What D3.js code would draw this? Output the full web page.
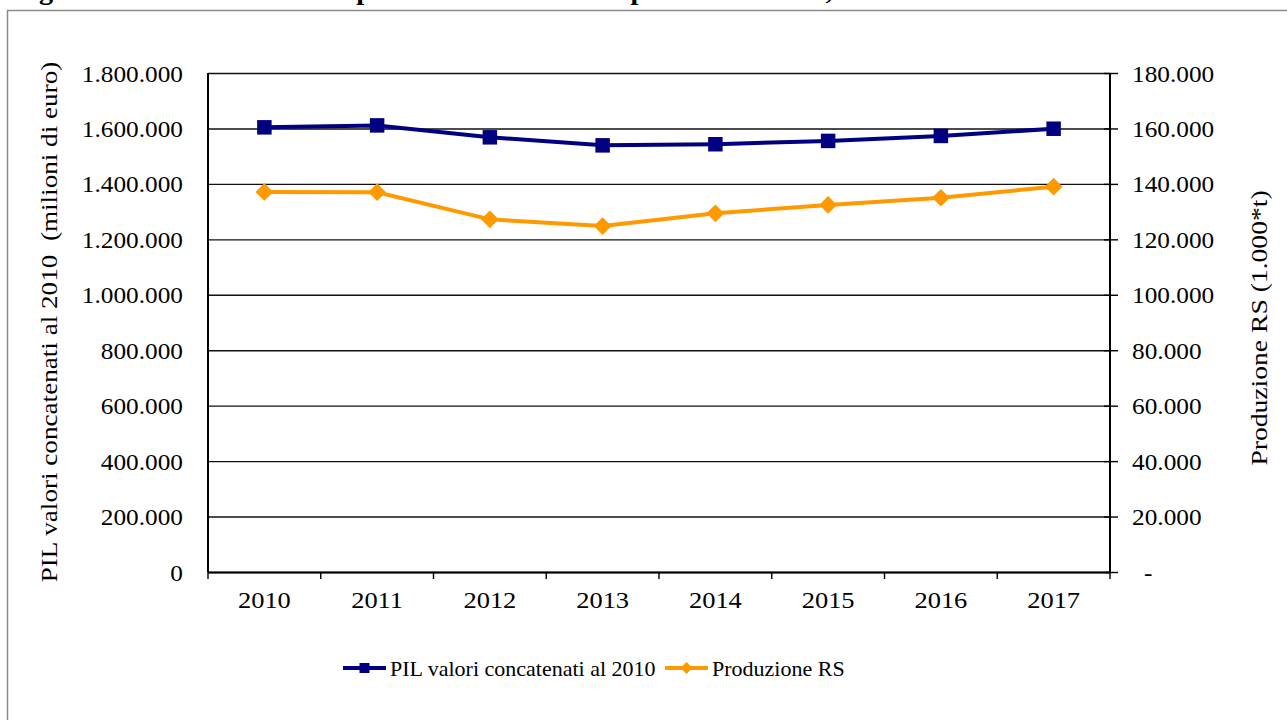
<!DOCTYPE html>
<html>
<head>
<meta charset="utf-8">
<script src="https://cdn.jsdelivr.net/npm/d3@7"></script>
<style>
  body { margin: 0; background: #fff; }
  svg { display: block; }
  text { font-family: "Liberation Serif", "Times New Roman", serif; fill: #000; }
</style>
</head>
<body>
<svg id="chart" width="1287" height="720"></svg>
<script>
"use strict";

// data
var years = ["2010", "2011", "2012", "2013", "2014", "2015", "2016", "2017"];
var pil = [1604000, 1611000, 1568000, 1539000, 1543000, 1555000, 1573000, 1599000];
var rs = [137100, 137000, 127200, 124800, 129400, 132400, 135000, 139000];
var leftTicks = [0, 200000, 400000, 600000, 800000, 1000000, 1200000, 1400000, 1600000, 1800000];
var rightTicks = [0, 20000, 40000, 60000, 80000, 100000, 120000, 140000, 160000, 180000];
var seriesNames = ["PIL valori concatenati al 2010", "Produzione RS"];

var NAVY = "#000080", ORANGE = "#ff9900";

var it = d3.formatLocale({decimal: ",", thousands: ".", grouping: [3], currency: ["€", ""]});
var fmt = it.format(",d");

// the source renders its serif text a bit wide, widen glyphs to match
function stretch(sel, k) {
  sel.each(function () {
    var n = this.getComputedTextLength();
    d3.select(this).attr("textLength", n * k).attr("lengthAdjust", "spacingAndGlyphs");
  });
}

var svg = d3.select("#chart");

// title (clipped by the top edge, as in the page it was cut from)
svg.append("text")
    .attr("x", 14).attr("y", -1)
    .style("font-size", "27px").style("font-weight", "bold")
    .attr("textLength", 1008).attr("lengthAdjust", "spacingAndGlyphs")
    .text("Figura 3 – Andamento della produzione dei rifiuti speciali e del PIL, anni 2010-2017");

// chart frame
svg.append("rect")
    .attr("x", 7.5).attr("y", 10.5)
    .attr("width", 1300).attr("height", 730)
    .attr("fill", "none").attr("stroke", "#8c8c8c").attr("stroke-width", 1.5);

var plot = {left: 208, right: 1110, top: 73, bottom: 572};
var w = plot.right - plot.left, h = plot.bottom - plot.top;

var x = d3.scaleBand().domain(years).range([0, w]).padding(0);
var yL = d3.scaleLinear().domain([0, 1800000]).range([h, 0]);
var yR = d3.scaleLinear().domain([0, 180000]).range([h, 0]);

var g = svg.append("g").attr("transform", "translate(" + plot.left + "," + plot.top + ")");

// gridlines
g.append("g")
    .call(d3.axisLeft(yL).tickValues(leftTicks).tickSize(-w).tickFormat(""))
    .call(function (s) {
      s.select(".domain").remove();
      s.selectAll("line").attr("stroke", "#111").attr("stroke-width", 1.4);
    });

// left axis labels
g.append("g")
    .call(d3.axisLeft(yL).tickValues(leftTicks).tickSize(0).tickPadding(25)
      .tickFormat(function (d) { return fmt(d); }))
    .call(function (s) {
      s.select(".domain").remove();
      s.selectAll("text").style("font-size", "23px").attr("dy", "0.35em")
        .style("font-family", "Liberation Serif, serif")
        .call(stretch, 1.1);
    });

// right axis
g.append("g")
    .attr("transform", "translate(" + w + ",0)")
    .call(d3.axisRight(yR).tickValues(rightTicks).tickSize(8).tickPadding(14)
      .tickFormat(function (d) { return d === 0 ? "-" : fmt(d); }))
    .call(function (s) {
      s.select(".domain").remove();
      s.selectAll("line").attr("x1", -6).attr("stroke", "#000").attr("stroke-width", 1.4);
      s.selectAll("text").style("font-size", "23px").attr("dy", "0.35em")
        .style("font-family", "Liberation Serif, serif")
        .call(stretch, 1.1);
      s.selectAll(".tick").filter(function (d) { return d === 0; })
        .select("text").attr("x", 34);
    });

// bottom axis with ticks at category boundaries
var bounds = d3.range(years.length + 1).map(function (i) { return i * x.step(); });
g.append("g")
    .attr("transform", "translate(0," + h + ")")
    .selectAll("line.cat")
    .data(bounds).enter().append("line")
    .attr("class", "cat")
    .attr("x1", function (d) { return d; }).attr("x2", function (d) { return d; })
    .attr("y1", 0).attr("y2", 7)
    .attr("stroke", "#000").attr("stroke-width", 1.4);

g.append("g")
    .attr("transform", "translate(0," + h + ")")
    .call(d3.axisBottom(x).tickSize(0).tickPadding(28))
    .call(function (s) {
      s.select(".domain").attr("stroke", "#000").attr("stroke-width", 2.2);
      s.selectAll("text").style("font-size", "23px").attr("dy", "0.35em")
        .style("font-family", "Liberation Serif, serif")
        .call(stretch, 1.15);
    });

// vertical axis lines
g.append("line").attr("x1", 0).attr("x2", 0).attr("y1", 0).attr("y2", h)
    .attr("stroke", "#000").attr("stroke-width", 2);
g.append("line").attr("x1", w).attr("x2", w).attr("y1", 0).attr("y2", h)
    .attr("stroke", "#000").attr("stroke-width", 2);

// axis titles
svg.append("text")
    .attr("transform", "translate(57,322) rotate(-90)")
    .attr("text-anchor", "middle")
    .style("font-size", "23px").style("white-space", "pre")
    .text("PIL valori concatenati al 2010  (milioni di euro)")
    .call(stretch, 1.18);

svg.append("text")
    .attr("transform", "translate(1267,328) rotate(-90)")
    .attr("text-anchor", "middle")
    .style("font-size", "23px")
    .text("Produzione RS (1.000*t)")
    .call(stretch, 1.2);

// series
var cx = function (d, i) { return x(years[i]) + x.bandwidth() / 2; };

g.append("path")
    .datum(pil)
    .attr("fill", "none").attr("stroke", NAVY).attr("stroke-width", 4)
    .attr("d", d3.line().x(cx).y(function (d) { return yL(d); }));

g.append("path")
    .datum(rs)
    .attr("fill", "none").attr("stroke", ORANGE).attr("stroke-width", 4)
    .attr("d", d3.line().x(cx).y(function (d) { return yR(d); }));

var square = d3.symbol().type(d3.symbolSquare).size(210);
var diamond = d3.symbol().type(d3.symbolDiamond2).size(200);

g.selectAll("path.pil")
    .data(pil).enter().append("path")
    .attr("class", "pil")
    .attr("d", square)
    .attr("transform", function (d, i) { return "translate(" + cx(d, i) + "," + yL(d) + ")"; })
    .attr("fill", NAVY);

g.selectAll("path.rs")
    .data(rs).enter().append("path")
    .attr("class", "rs")
    .attr("d", diamond)
    .attr("transform", function (d, i) { return "translate(" + cx(d, i) + "," + yR(d) + ")"; })
    .attr("fill", ORANGE);

// legend
var legend = svg.append("g").attr("transform", "translate(0,668)");
var items = [
  {name: seriesNames[0], color: NAVY, sym: d3.symbol().type(d3.symbolSquare).size(100), x0: 343},
  {name: seriesNames[1], color: ORANGE, sym: d3.symbol().type(d3.symbolDiamond2).size(90), x0: 665}
];
var li = legend.selectAll("g.item").data(items).enter().append("g")
    .attr("class", "item")
    .attr("transform", function (d) { return "translate(" + d.x0 + ",0)"; });
li.append("line")
    .attr("x1", 0).attr("x2", 43).attr("y1", 0).attr("y2", 0)
    .attr("stroke", function (d) { return d.color; }).attr("stroke-width", 4);
li.append("path")
    .attr("d", function (d) { return d.sym(); })
    .attr("transform", "translate(21.5,0)")
    .attr("fill", function (d) { return d.color; });
li.append("text")
    .attr("x", 47).attr("y", 0).attr("dy", "0.35em")
    .style("font-size", "22px")
    .text(function (d) { return d.name; });
</script>
</body>
</html>
